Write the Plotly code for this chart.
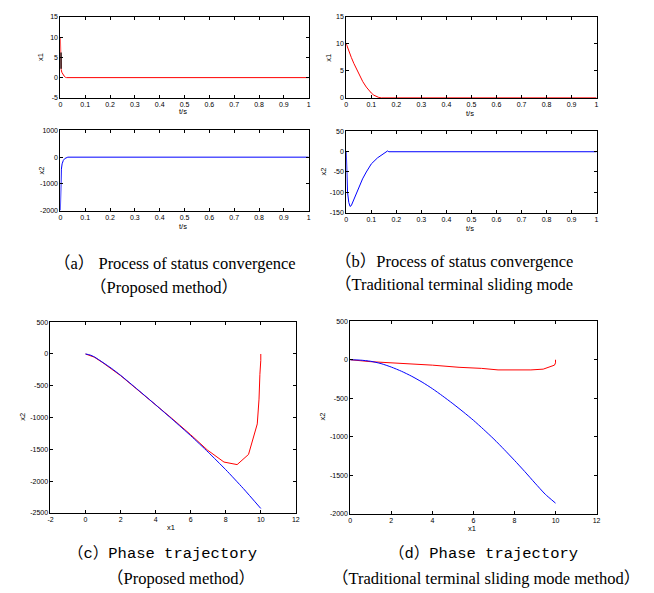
import plotly.graph_objects as go

W, H = 654, 593

# ---------------- data ----------------
# (a) proposed method: states vs time
a_t1 = [0, 0.0005, 0.001, 0.003, 0.006, 0.01, 0.015, 0.02, 0.025, 1.0]
a_x1 = [10, 6, 4, 2, 1.3, 0.8, 0.4, 0.1, 0, 0]
a_blk_t = [0.002, 0.002]
a_blk_x1 = [6.2, 2.2]
a_t2 = [0, 0.0003, 0.0008, 0.002, 0.004, 0.007, 0.012, 0.018, 0.025, 0.03, 1.0]
a_x2 = [-2000, -1800, -1400, -900, -450, -250, -120, -50, -10, 0, 0]

# (b) traditional terminal sliding mode: states vs time
b_t1 = [0, 0.01, 0.02, 0.03, 0.04, 0.05, 0.066, 0.08, 0.09, 0.1, 0.11, 0.12, 0.13, 0.14, 1.0]
b_x1 = [10, 8.6, 7.5, 6.4, 5.4, 4.4, 3.0, 2.0, 1.4, 0.9, 0.5, 0.25, 0.08, 0, 0]
b_t2 = [0, 0.002, 0.005, 0.01, 0.015, 0.02, 0.035, 0.05, 0.065, 0.08, 0.1, 0.125,
        0.15, 0.165, 0.17, 1.0]
b_x2 = [0, -50, -100, -125, -135, -133, -110, -87, -67, -50, -30, -15, -4, 2, 0, 0]

# (c) phase trajectory, proposed method
c_red_x1 = [10, 10, 9.95, 9.9, 9.8, 9.3, 8.65, 7.9, 6.95, 6.5, 6, 5, 4, 3, 2, 1, 0.5, 0]
c_red_x2 = [0, -100, -320, -710, -1100, -1580, -1740, -1700, -1510, -1390, -1270,
            -1030, -800, -570, -340, -140, -50, 0]
c_blue_x1 = [0, 0.25, 0.5, 1, 1.5, 2, 3, 4, 5, 6, 7, 8, 9, 10]
c_blue_x2 = [0, -15, -45, -135, -230, -335, -565, -800, -1040, -1285, -1545, -1820,
             -2115, -2430]

# (d) phase trajectory, traditional method
d_red_x1 = [10, 10, 9.95, 9.75, 9.4, 8.8, 8, 7.2, 6.4, 5.3, 4, 2, 1, 0]
d_red_x2 = [0, -40, -70, -90, -122, -132, -136, -132, -112, -98, -70, -46, -25, 0]
d_blue_x1 = [0, 0.5, 1, 1.5, 2, 2.5, 3, 3.5, 4, 4.5, 5, 5.5, 6, 6.5, 7, 7.5, 8, 8.5,
             9, 9.5, 10]
d_blue_x2 = [0, -5, -20, -50, -95, -150, -215, -290, -375, -470, -570, -675, -785,
             -905, -1030, -1165, -1305, -1450, -1600, -1745, -1860]

t_ticks = [0, 0.1, 0.2, 0.3, 0.4, 0.5, 0.6, 0.7, 0.8, 0.9, 1]
t_labels = ["0", "0.1", "0.2", "0.3", "0.4", "0.5", "0.6", "0.7", "0.8", "0.9", "1"]

captions = [
    ("（a） Process of status convergence", 50, 263, "serif"),
    ("（Proposed method）", 86, 287, "serif"),
    ("（b）Process of status convergence", 334, 261, "serif"),
    ("（Traditional terminal sliding mode", 334, 284, "serif"),
    ("（c）Phase trajectory", 64, 557, "mono"),
    ("（Proposed method）", 103, 581, "serif"),
    ("（d）Phase trajectory", 388, 557, "mono"),
    ("（Traditional terminal sliding mode method）", 331, 581, "serif"),
]

# ---------------- figure ----------------
fig = go.Figure()
TICKFONT = dict(family="Liberation Sans, Arial, sans-serif", size=7, color="black")


def hy(vals):
    return [str(v) for v in vals]


def add_axes(i, px_box, xr, yr, xt, xtl, yt):
    x0, x1, y0, y1 = px_box
    xa = dict(domain=[x0 / W, x1 / W], range=xr, tickvals=xt, ticktext=xtl,
              showline=True, linecolor="black", linewidth=1, mirror="allticks",
              ticks="inside", ticklen=3, tickcolor="black", showgrid=False,
              zeroline=False, tickfont=TICKFONT, anchor="y" if i == 1 else f"y{i}")
    ya = dict(domain=[1 - y1 / H, 1 - y0 / H], range=yr, tickvals=yt, ticktext=hy(yt),
              showline=True, linecolor="black", linewidth=1, mirror="allticks",
              ticks="inside", ticklen=3, tickcolor="black", showgrid=False,
              zeroline=False, tickfont=TICKFONT, anchor="x" if i == 1 else f"x{i}")
    fig.layout["xaxis" if i == 1 else f"xaxis{i}"] = xa
    fig.layout["yaxis" if i == 1 else f"yaxis{i}"] = ya


def line(x, y, color, i, width=1.0, smooth=False):
    ln = dict(color=color, width=width)
    if smooth:
        ln.update(shape="spline", smoothing=0.6)
    fig.add_trace(go.Scatter(x=x, y=y, mode="lines", line=ln,
                             xaxis="x" if i == 1 else f"x{i}",
                             yaxis="y" if i == 1 else f"y{i}", showlegend=False,
                             hoverinfo="skip"))


# axes: pixel boxes (left, right, top, bottom)
add_axes(1, (58, 309, 13, 95), [0, 1], [-5, 15], t_ticks, t_labels, [-5, 0, 5, 10, 15])
add_axes(2, (58, 309, 128, 209), [0, 1], [-2000, 1000], t_ticks, t_labels, [-2000, -1000, 0, 1000])
add_axes(3, (347, 600, 13, 95), [0, 1], [0, 15], t_ticks, t_labels, [0, 5, 10, 15])
add_axes(4, (347, 600, 129, 211), [0, 1], [-150, 50], t_ticks, t_labels, [-150, -100, -50, 0, 50])
cx = [-2, 0, 2, 4, 6, 8, 10, 12]
add_axes(5, (48, 296, 322, 515), [-2, 12], [-2500, 500], cx, hy(cx),
         [-2500, -2000, -1500, -1000, -500, 0, 500])
dx = [0, 2, 4, 6, 8, 10, 12]
add_axes(6, (351, 600, 321, 516), [0, 12], [-2000, 500], dx, hy(dx),
         [-2000, -1500, -1000, -500, 0, 500])

line(a_t1, a_x1, "#ff0000", 1)
line(a_blk_t, a_blk_x1, "#000000", 1, 1.6)
line(a_t2, a_x2, "#0000ff", 2)
line(b_t1, b_x1, "#ff0000", 3)
line(b_t2, b_x2, "#0000ff", 4)
line(c_red_x1, c_red_x2, "#ff0000", 5)
line(c_blue_x1, c_blue_x2, "#0000ff", 5, smooth=True)
line(d_red_x1, d_red_x2, "#ff0000", 6)
line(d_blue_x1, d_blue_x2, "#0000ff", 6, smooth=True)

ann = []
LBL = dict(family="Liberation Sans, Arial, sans-serif", size=7.5, color="black")
for (txt, x, y, rot) in [("t/s", 182, 109, 0), ("t/s", 182, 225, 0), ("t/s", 472, 111, 0),
                         ("t/s", 472, 227, 0), ("x1", 38, 54, -90), ("x2", 38, 169, -90),
                         ("x1", 329, 54, -90), ("x2", 324, 170, -90),
                         ("x1", 170, 530, 0), ("x2", 19, 418, -90),
                         ("x1", 474, 531, 0), ("x2", 323, 418, -90)]:
    ann.append(dict(text=txt, x=x / W, y=1 - y / H, xref="paper", yref="paper",
                    xanchor="center", yanchor="middle", showarrow=False, textangle=rot,
                    font=LBL))

for (txt, x, y, kind) in captions:
    if kind == "mono":
        f = dict(family="Liberation Mono, Noto Sans CJK SC, monospace", size=15.5, color="black")
    else:
        f = dict(family="Liberation Serif, Noto Sans CJK SC, serif", size=16.5, color="black")
    ann.append(dict(text=txt, x=x / W, y=1 - y / H, xref="paper", yref="paper",
                    xanchor="left", yanchor="middle", showarrow=False, font=f))

fig.update_layout(width=W, height=H, autosize=False,
                  margin=dict(l=0, r=0, t=0, b=0, pad=0),
                  paper_bgcolor="white", plot_bgcolor="white",
                  annotations=ann, showlegend=False)

fig.write_html("out.html")
